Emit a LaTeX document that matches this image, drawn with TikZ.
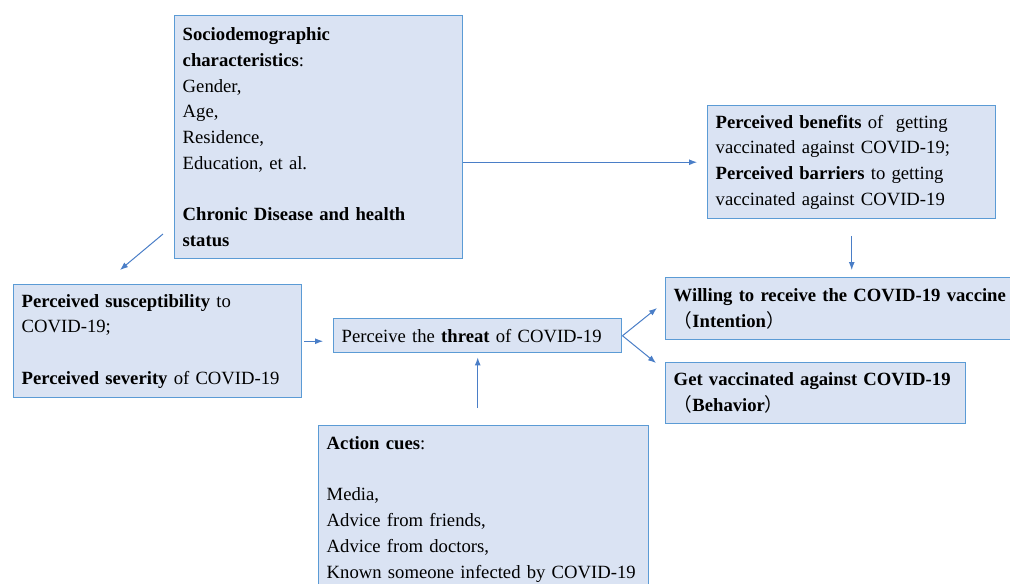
\documentclass[tikz,border=0pt]{standalone}
\usepackage{fontspec}
\setmainfont{Liberation Serif}
\newfontfamily\cjk{Noto Sans CJK SC}
\usepackage{tikz}
\usetikzlibrary{arrows.meta,positioning}
\definecolor{boxfill}{HTML}{DAE3F3}
\definecolor{boxline}{HTML}{5B9BD5}
\definecolor{arrline}{HTML}{4A7EC7}
\newcommand{\hbmfont}{\exhyphenpenalty=10000\relax\fontsize{14}{19.3}\selectfont}
\tikzset{
  hbmbox/.style={draw=boxline, fill=boxfill, line width=1.1pt, anchor=north west,
    align=left, inner xsep=6pt, inner ysep=0pt, font=\hbmfont},
  hbmarrow/.style={-{Latex[length=6pt,width=4.5pt]}, draw=arrline, line width=0.75pt},
}

\begin{document}
\begin{tikzpicture}[x=0.75pt, y=-0.75pt]
    \useasboundingbox (0,0) rectangle (1010,583);

    % Modifying factors
    \node[hbmbox, text width=204pt, minimum height=182.25pt] (socio) at (174,15)
      {\textbf{Sociodemographic}\\ \textbf{characteristics}:\\ Gender,\\ Age,\\ Residence,\\
       Education, et al.\\ \mbox{}\\ \textbf{Chronic Disease and health}\\ \textbf{status}};

    % Benefits and barriers
    \node[hbmbox, text width=204pt, minimum height=84.75pt] (benefits) at (707,105)
      {\textbf{Perceived benefits} of\ \ getting\\ vaccinated against COVID-19;\\
       \textbf{Perceived barriers} to getting\\ vaccinated against COVID-19};

    % Susceptibility and severity
    \node[hbmbox, text width=204pt, minimum height=84.75pt] (suscept) at (13,284)
      {\textbf{Perceived susceptibility} to\\ COVID-19;\\ \mbox{}\\ \textbf{Perceived severity} of COVID-19};

    % Threat
    \node[hbmbox, text width=204pt, minimum height=25.5pt] (threat) at (333,318)
      {Perceive the \textbf{threat} of COVID-19};

    % Outcomes
    \node[hbmbox, text width=300pt, minimum height=46.5pt] (willing) at (665,277)
      {\textbf{Willing to receive the COVID-19 vaccine}\\ {\cjk （}\textbf{Intention}{\cjk ）}};
    \node[hbmbox, text width=213pt, minimum height=45.75pt] (get) at (665,362)
      {\textbf{Get vaccinated against COVID-19}\\ {\cjk （}\textbf{Behavior}{\cjk ）}};

    % Cues to action
    \node[hbmbox, text width=235.5pt, inner ysep=8pt] (action) at (318,425)
      {\textbf{Action cues}:\\ \mbox{}\\ Media,\\ Advice from friends,\\ Advice from doctors,\\
       Known someone infected by COVID-19};

    % Free arrow ends
    \coordinate (sociotail) at (163,234);
    \coordinate (susctip) at (120,270);
    \coordinate (willtip) at (657,308);
    \coordinate (gettip) at (656,363);

    % Arrows
    \draw[hbmarrow, shorten >=7.5pt] (socio.east |- benefits.west) -- (benefits.west);
    \draw[hbmarrow] (sociotail) -- (susctip);
    \draw[hbmarrow, shorten <=12.75pt, shorten >=5.25pt] (benefits.south) -- (benefits.south |- willing.north);
    \draw[hbmarrow, shorten <=1.5pt, shorten >=7.5pt] (suscept.east) -- (suscept.east -| threat.west);
    \draw[hbmarrow, shorten <=12.75pt, shorten >=3pt] (threat.south |- action.north) -- (threat.south);
    \draw[hbmarrow] (threat.east) -- (willtip);
    \draw[hbmarrow] (threat.east) -- (gettip);
\end{tikzpicture}
\end{document}
